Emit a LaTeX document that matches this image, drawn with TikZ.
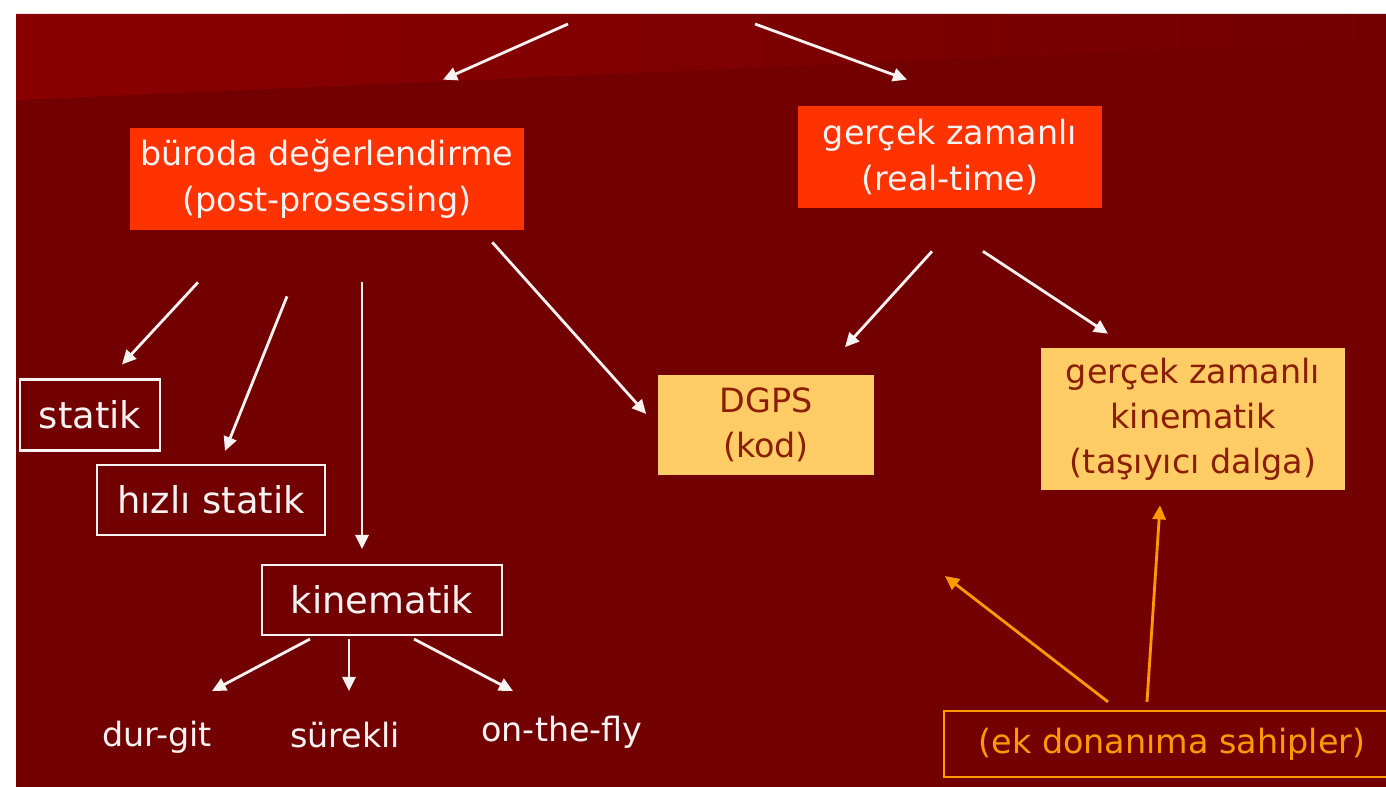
\documentclass[tikz,border=0pt]{standalone}
\usepackage{fontspec}
\setmainfont{DejaVu Sans}
\usetikzlibrary{arrows.meta,calc}

\definecolor{slidebg}{HTML}{730000}
\definecolor{slidetop}{HTML}{8A0000}
\definecolor{hotred}{HTML}{FF3300}
\definecolor{paleorange}{HTML}{FFCC66}
\definecolor{darktext}{HTML}{8A1E00}
\definecolor{amber}{HTML}{FF9900}
\definecolor{offwhite}{HTML}{F8F2F2}

\tikzset{
  redbox/.style={fill=hotred, text=offwhite, align=center, inner sep=0pt,
    font=\fontsize{19}{26}\selectfont},
  palebox/.style={fill=paleorange, text=darktext, align=center, inner sep=0pt,
    font=\fontsize{19}{25.5}\selectfont},
  linebox/.style={draw=offwhite, line width=1.2pt, text=offwhite, inner sep=0pt,
    font=\fontsize{21}{26}\selectfont},
  leaf/.style={text=offwhite, inner sep=0pt, font=\fontsize{19}{24}\selectfont},
  arr/.style={draw=offwhite, line width=1.6pt, -{Triangle[length=8pt,width=7.5pt]}},
  amberarr/.style={draw=amber, line width=1.6pt, -{Triangle[length=8pt,width=7.5pt]}}
}

\begin{document}
\begin{tikzpicture}[x=0.02cm,y=-0.02cm]
  \clip (0,0) rectangle (1386,787);
  % slide background
  \fill[white] (0,0) rectangle (1386,787);
  \fill[slidebg] (16,14) rectangle (1386,787);
  \shade[left color=slidetop, right color=slidebg]
    (16,14) -- (1386,14) -- (1386,40) -- (16,100) -- cycle;

  % boxes
  \node[redbox, minimum width=7.88cm, minimum height=2.04cm] (buro) at (327,179)
    {büroda değerlendirme\\(post-prosessing)};
  \node[redbox, minimum width=6.1cm, minimum height=2.04cm] (gercek) at (950,157)
    {gerçek zamanlı\\(real-time)};
  \node[linebox, minimum width=2.8cm, minimum height=1.42cm] (statik) at (90,415) {statik};
  \node[linebox, minimum width=4.56cm, minimum height=1.4cm] (hizli) at (211,500) {hızlı statik};
  \node[linebox, minimum width=4.8cm, minimum height=1.4cm] (kinematik) at (382,600) {kinematik};
  \node[palebox, minimum width=4.34cm, minimum height=2.02cm] (dgps) at (766,425)
    {DGPS\\(kod)};
  \node[palebox, minimum width=6.08cm, minimum height=2.84cm] (gzk) at (1193,419)
    {gerçek zamanlı\\kinematik\\(taşıyıcı dalga)};
  \node[draw=amber, line width=1.3pt, text=amber, inner sep=0pt,
    font=\fontsize{19}{24}\selectfont, minimum width=9.12cm, minimum height=1.32cm]
    (ek) at (1172,744) {(ek donanıma sahipler)};

  % leaves
  \node[leaf] (durgit) at (157,737) {dur-git};
  \node[leaf] (surekli) at (345,735) {sürekli};
  \node[leaf] (onthefly) at (562,732) {on-the-fly};

  \coordinate (rootl) at (568,24);
  \coordinate (rootr) at (755,24);
  \coordinate (ekfree) at (945,576);

  % connectors
  \draw[arr] (rootl) -- ($(buro.north)+(116,-48)$);
  \draw[arr] (rootr) -- ($(gercek.north)+(-43,-26)$);
  \draw[arr] ($(buro.south)+(-129,52)$) -- ($(statik.north)+(32,-14)$);
  \draw[arr] ($(buro.south)+(-40,66)$) -- ($(hizli.north)+(14,-13)$);
  \draw[arr] ($(buro.south)+(35,52)$) -- ($(kinematik.north)+(-20,-15)$);
  \draw[arr] ($(buro.south east)+(-32,12)$) -- ($(dgps.west)+(-11,-11)$);
  \draw[arr] ($(gercek.south)+(-18,43)$) -- ($(dgps.north)+(79,-27)$);
  \draw[arr] ($(gercek.south)+(33,43)$) -- ($(gzk.north)+(-85,-14)$);
  \draw[arr] ($(kinematik.south)+(-72,3)$) -- ($(durgit.center)+(55,-46)$);
  \draw[arr] ($(kinematik.south)+(-33,3)$) -- ($(surekli.center)+(4,-44)$);
  \draw[arr] ($(kinematik.south)+(32,3)$) -- ($(onthefly.center)+(-49,-41)$);
  \draw[amberarr] ($(ek.north)+(-64,-8)$) -- (ekfree);
  \draw[amberarr] ($(ek.north)+(-25,-8)$) -- ($(gzk.south)+(-33,15)$);
\end{tikzpicture}
\end{document}
